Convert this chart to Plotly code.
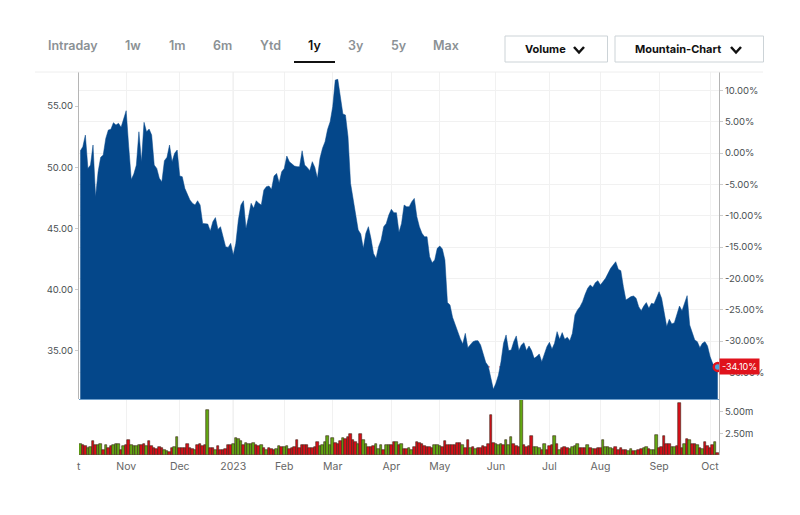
import pandas as pd
import plotly.graph_objects as go

# trading days
holidays = ['2022-11-24', '2022-12-26', '2023-01-02', '2023-01-16', '2023-02-20',
            '2023-04-07', '2023-05-29', '2023-06-19', '2023-07-04', '2023-09-04']
dates = [d.strftime('%Y-%m-%d') for d in pd.bdate_range('2022-10-06', '2023-10-05')
         if d.strftime('%Y-%m-%d') not in holidays]

# closing price
price = [51.33, 51.68, 52.63, 49.91, 50.18, 51.82, 47.6, 49.64, 50.81, 51.0,
         52.36, 53.04, 53.1, 53.64, 53.45, 53.59, 53.26, 54.0, 54.62, 51.68,
         49.0, 49.45, 50.18, 52.9, 50.46, 53.67, 52.9, 53.12, 52.63, 50.18,
         49.91, 49.1, 48.82, 50.54, 50.81, 51.82, 50.46, 51.14, 51.41, 49.29,
         49.23, 48.28, 47.74, 47.33, 47.06, 46.92, 47.27, 46.92, 45.42, 45.37,
         45.37, 44.8, 45.56, 45.89, 44.93, 45.15, 44.2, 43.52, 43.46, 43.79,
         42.84, 43.79, 45.7, 46.92, 47.27, 45.01, 45.97, 47.06, 46.65, 47.27,
         47.06, 46.92, 48.14, 48.42, 48.47, 48.2, 49.29, 49.5, 48.74, 49.64,
         49.91, 50.92, 50.46, 50.24, 50.1, 50.05, 50.05, 51.35, 50.18, 49.99,
         49.72, 50.46, 49.99, 49.1, 50.73, 51.55, 52.09, 53.1, 53.72, 54.95,
         57.12, 57.18, 55.9, 54.35, 54.27, 52.5, 48.69, 47.46, 46.38, 44.88,
         44.55, 43.38, 44.61, 45.15, 44.2, 42.97, 42.57, 43.52, 44.06, 45.15,
         45.42, 46.1, 46.57, 46.29, 46.29, 44.7, 45.42, 46.92, 46.78, 46.78,
         47.19, 47.46, 45.97, 45.15, 44.61, 44.33, 44.33, 42.7, 42.21, 42.43,
         43.38, 43.57, 43.33, 42.43, 38.95, 38.76, 37.75, 37.12, 36.58, 36.03,
         35.57, 36.44, 35.27, 35.49, 35.76, 35.84, 35.84, 35.49, 34.67, 34.08,
         33.78, 32.77, 31.87, 32.36, 33.04, 34.13, 35.63, 36.31, 35.03, 35.08,
         35.76, 36.23, 35.03, 35.49, 35.68, 35.03, 35.41, 35.03, 34.4, 34.54,
         34.76, 34.13, 34.81, 35.35, 35.71, 35.16, 35.63, 36.58, 35.95, 36.5,
         35.95, 36.12, 35.84, 36.44, 37.94, 38.35, 38.62, 39.03, 39.63, 40.12,
         40.39, 40.2, 40.58, 40.74, 40.39, 40.66, 40.93, 41.34, 41.75, 42.02,
         42.29, 41.67, 41.56, 40.25, 39.16, 39.3, 39.44, 39.49, 39.3, 38.62,
         38.29, 38.67, 38.95, 38.48, 38.89, 38.84, 39.38, 39.84, 39.3, 38.08,
         36.99, 37.59, 37.21, 37.31, 38.08, 38.67, 38.29, 38.95, 39.52, 37.12,
         36.58, 35.9, 35.76, 35.27, 35.63, 35.76, 35.41, 34.54, 33.99, 33.72,
         33.7]

# volume in millions
volume = [1.30, 1.11, 1.00, 0.84, 0.92, 1.61, 1.11, 1.11, 1.30, 0.61,
          1.11, 0.84, 1.00, 1.19, 1.23, 1.23, 0.61, 1.00, 1.11, 1.76,
          1.11, 1.00, 1.00, 1.11, 1.11, 1.30, 1.00, 1.57, 1.00, 0.84,
          0.73, 0.92, 0.84, 0.61, 0.46, 0.34, 0.84, 0.92, 2.07, 0.80,
          0.84, 0.84, 1.23, 0.84, 0.73, 0.61, 1.11, 1.23, 1.00, 1.11,
          5.13, 0.84, 0.84, 0.61, 1.00, 0.54, 0.61, 0.73, 1.11, 1.11,
          1.23, 1.95, 1.88, 1.57, 1.11, 1.38, 1.30, 1.30, 1.38, 1.11,
          1.00, 1.11, 0.84, 0.61, 0.84, 0.73, 0.61, 0.73, 1.00, 0.92,
          0.92, 1.00, 0.73, 0.84, 0.92, 1.76, 0.84, 1.11, 1.11, 1.11,
          0.84, 0.84, 0.92, 1.46, 1.00, 1.11, 1.49, 2.14, 1.11, 1.95,
          1.38, 1.30, 1.61, 1.95, 1.80, 2.07, 2.38, 1.76, 1.49, 1.23,
          2.45, 1.69, 1.23, 0.92, 0.92, 1.00, 1.30, 0.73, 1.11, 0.61,
          1.11, 1.11, 1.11, 1.49, 1.49, 1.11, 1.23, 0.69, 0.65, 0.80,
          0.54, 0.92, 1.49, 1.42, 1.23, 1.03, 0.92, 0.88, 0.84, 1.11,
          1.11, 1.03, 0.92, 1.61, 1.11, 1.11, 1.19, 1.11, 1.38, 1.42,
          1.11, 0.84, 1.69, 0.84, 0.92, 0.73, 0.84, 0.80, 1.00, 0.92,
          1.23, 4.56, 1.42, 1.23, 1.19, 1.23, 1.11, 1.69, 1.11, 2.07,
          1.23, 1.00, 0.92, 7.20, 1.19, 0.92, 1.00, 2.14, 0.92, 0.92,
          0.84, 0.61, 1.23, 0.54, 1.00, 1.11, 2.14, 1.30, 0.61, 0.84,
          0.92, 0.84, 0.73, 0.92, 1.00, 1.30, 0.84, 0.77, 0.77, 1.19,
          0.84, 0.69, 0.69, 0.77, 0.80, 1.69, 0.92, 0.92, 0.84, 0.73,
          0.92, 0.61, 0.84, 0.61, 0.54, 0.42, 0.69, 0.46, 0.50, 0.54,
          0.69, 0.84, 0.92, 0.73, 0.61, 0.61, 2.34, 0.84, 0.92, 2.22,
          1.30, 1.30, 0.92, 0.92, 1.00, 5.98, 0.84, 1.23, 1.84, 1.69,
          1.30, 1.23, 1.19, 0.80, 0.73, 1.49, 1.00, 0.84, 1.11, 1.49,
          0.27]

# positions of the green bars, all others are red
green_bars = [0, 3, 4, 7, 8, 10, 13, 14, 15, 17, 20, 21, 22, 23, 26, 33, 34, 37, 38, 45, 50, 53,
              60, 61, 62, 63, 65, 66, 67, 68, 71, 73, 77, 78, 80, 81, 94, 95, 96, 97, 98, 99, 103,
              109, 111, 112, 116, 117, 118, 120, 121, 124, 126, 129, 130, 139, 140, 141, 150, 153,
              155, 163, 164, 165, 167, 168, 169, 173, 178, 179, 180, 182, 186, 188, 192, 193, 194,
              195, 199, 201, 205, 206, 207, 208, 209, 215, 216, 218, 221, 222, 224, 225, 226, 232,
              233, 237, 239, 242, 244, 249]

month_ticks = ['2022-11-01', '2022-12-01', '2023-01-03', '2023-02-01', '2023-03-01', '2023-04-03',
               '2023-05-01', '2023-06-01', '2023-07-03', '2023-08-01', '2023-09-01', '2023-10-02']
month_labels = ['Nov', 'Dec', '2023', 'Feb', 'Mar', 'Apr', 'May', 'Jun', 'Jul', 'Aug', 'Sep', 'Oct']
price_ticks = [35, 40, 45, 50, 55]
pct_ticks = [10, 5, 0, -5, -10, -15, -20, -25, -30, -35]
volume_ticks = [2.5, 5]

tabs = ['Intraday', '1w', '1m', '6m', 'Ytd', '1y', '3y', '5y', 'Max']
tab_x = [72.5, 132.5, 177, 222.7, 270, 314.5, 356, 399, 446]

# page body has an 8px margin, so the figure starts at 8,8
OFF = 8
W = 800 - OFF
H = 515 - OFF
base_price = 51.16
last_pct = -34.10

bar_colors = ['#62a812' if i in green_bars else '#d80e18' for i in range(len(volume))]
pct = [(p / base_price - 1) * 100 for p in price]


def px(x):
    return (x - OFF) / W


def py(y):
    return 1 - (y - OFF) / H


fig = go.Figure()
fig.add_trace(go.Scatter(x=dates, y=price, mode='lines', fill='tozeroy', fillcolor='#04478a',
                         line=dict(color='#04478a', width=0.5), xaxis='x', yaxis='y', hoverinfo='skip'))
# keeps the percent axis alive
fig.add_trace(go.Scatter(x=dates, y=pct, mode='lines', line=dict(color='rgba(0,0,0,0)', width=0),
                         xaxis='x', yaxis='y2', hoverinfo='skip'))
fig.add_trace(go.Bar(x=dates, y=volume, marker=dict(color=bar_colors, line=dict(color='#3a2418', width=0.6)),
                     xaxis='x', yaxis='y3', hoverinfo='skip'))
fig.add_trace(go.Scatter(x=[dates[-1]], y=[price[-1]], mode='markers', cliponaxis=False,
                         marker=dict(color='#4ba3dc', size=8, line=dict(color='#e0121c', width=2.5)),
                         xaxis='x', yaxis='y', hoverinfo='skip'))

shapes = []
# top rule
shapes.append(dict(type='line', xref='paper', yref='paper', x0=px(35), x1=px(763), y0=py(72), y1=py(72),
                   line=dict(color='#eeeeee', width=1)))
# selected tab
shapes.append(dict(type='line', xref='paper', yref='paper', x0=px(294), x1=px(335), y0=py(62), y1=py(62),
                   line=dict(color='#111111', width=2)))
# buttons
for x0, x1, cx in [(505, 607.5, 579), (615, 763.5, 736)]:
    shapes.append(dict(type='rect', xref='paper', yref='paper', x0=px(x0), x1=px(x1), y0=py(62), y1=py(36),
                       line=dict(color='#ccd3d7', width=1), fillcolor='white'))
    shapes.append(dict(type='path', xref='paper', yref='paper', line=dict(color='#111111', width=2.5),
                       path='M %f %f L %f %f L %f %f' % (px(cx - 5), py(47), px(cx), py(52.5), px(cx + 5), py(47))))
# year line
shapes.append(dict(type='line', xref='x', yref='paper', x0='2023-01-03', x1='2023-01-03', y0=py(455), y1=py(72),
                   layer='below', line=dict(color='#d8d8d8', width=1)))
# last price level
shapes.append(dict(type='line', xref='paper', yref='y', x0=px(481), x1=px(719), y0=price[-1], y1=price[-1],
                   layer='below', line=dict(color='#d8606a', width=1, dash='dash')))
# edge under the mountain
shapes.append(dict(type='line', xref='paper', yref='paper', x0=px(79), x1=px(719), y0=py(399.5), y1=py(399.5),
                   line=dict(color='#6f9fcb', width=1)))

annotations = []
for name, x in zip(tabs, tab_x):
    annotations.append(dict(text=name, xref='paper', yref='paper', x=px(x), y=py(45), showarrow=False,
                            xanchor='center', yanchor='middle',
                            font=dict(family='Inter', size=12.5, weight=600,
                                      color='#111111' if name == '1y' else '#8b9195')))
for name, x in [('Volume', 545), ('Mountain-Chart', 678)]:
    annotations.append(dict(text=name, xref='paper', yref='paper', x=px(x), y=py(49.5), showarrow=False,
                            xanchor='center', yanchor='middle',
                            font=dict(family='Inter', size=11, weight=700, color='#111111')))
# clipped October label at the left edge
annotations.append(dict(text='t', xref='paper', yref='paper', x=px(78.5), y=py(466), showarrow=False,
                        xanchor='center', yanchor='middle', font=dict(family='Inter', size=10.5, color='#666666')))
# last value badge
annotations.append(dict(text='%.2f%%' % last_pct, xref='x', yref='y', x=dates[-1], y=price[-1], showarrow=False,
                        xanchor='left', yanchor='middle', xshift=1, bgcolor='#e0121c', borderpad=2,
                        font=dict(family='Inter', size=9, color='white')))

fig.update_layout(
    width=W, height=H,
    margin=dict(l=0, r=0, t=0, b=0),
    paper_bgcolor='white', plot_bgcolor='white',
    showlegend=False, bargap=0,
    font=dict(family='Inter', size=10, color='#4a4f53'),
    shapes=shapes, annotations=annotations,
    xaxis=dict(domain=[px(79), px(719)], type='category', anchor='y3', range=[-0.5, len(dates) - 0.5],
               tickmode='array', tickvals=month_ticks, ticktext=month_labels, showgrid=True,
               gridcolor='#f1f1f1', gridwidth=1, ticks='', ticklabelstandoff=3,
               tickfont=dict(size=10.5, color='#666666'), showline=False, zeroline=False),
    yaxis=dict(domain=[py(399), py(72)], range=[31.08, 57.78], anchor='x', side='left',
               tickmode='array', tickvals=price_ticks, ticktext=['%.2f' % t for t in price_ticks],
               showgrid=False, zeroline=False, showline=True, linecolor='#b5b5b5', linewidth=1,
               ticks='outside', ticklen=3, tickcolor='#cccccc', tickfont=dict(size=9.5, color='#4a4f53')),
    yaxis2=dict(domain=[py(399), py(72)], range=[(31.08 / base_price - 1) * 100, (57.78 / base_price - 1) * 100],
                anchor='x', overlaying='y', side='right', tickmode='array', tickvals=pct_ticks,
                ticktext=['%.2f%%' % t for t in pct_ticks], showgrid=True, gridcolor='#f1f1f1', zeroline=False,
                showline=True, linecolor='#b5b5b5', linewidth=1, ticks='outside', ticklen=3, tickcolor='#cccccc',
                tickfont=dict(size=9.5, color='#4a4f53')),
    yaxis3=dict(domain=[py(455), py(399)], range=[0, 6.45], anchor='x', side='right', tickmode='array',
                tickvals=volume_ticks, ticktext=['%.2fm' % t for t in volume_ticks], showgrid=False, zeroline=False,
                showline=True, linecolor='#b5b5b5', linewidth=1, ticks='outside', ticklen=3, tickcolor='#cccccc',
                tickfont=dict(size=9.5, color='#4a4f53')),
)

fig.write_html("out.html")
